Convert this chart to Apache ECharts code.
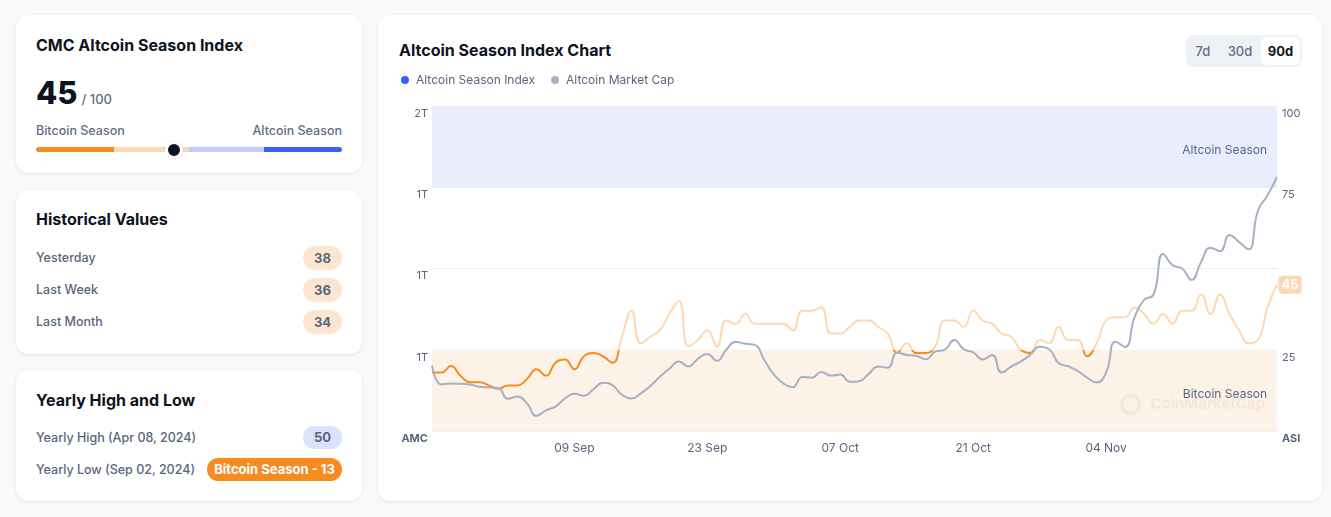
<!DOCTYPE html>
<html><head><meta charset="utf-8">
<script src="https://cdn.jsdelivr.net/npm/echarts@6/dist/echarts.min.js"></script>
<style>
html,body{margin:0;padding:0;width:1331px;height:517px;overflow:hidden;background:#F8F9FB;font-family:Inter,'Noto Sans',sans-serif;}
.card{position:absolute;background:#fff;border-radius:12px;box-shadow:0 1px 3px rgba(88,102,126,0.13),0 0 1px rgba(88,102,126,0.08);}
.abs{position:absolute;white-space:nowrap;}
.h{font-size:16px;font-weight:700;color:#0D1421;line-height:20px;}
.lbl{font-size:12.5px;font-weight:500;color:#616E85;line-height:16px;}
.row{font-size:12.5px;font-weight:500;color:#58667E;line-height:16px;}
.badge{position:absolute;height:24px;line-height:24px;border-radius:12px;text-align:center;font-size:13px;font-weight:700;color:#58667E;}
#chart{position:absolute;left:0;top:0;width:1331px;height:517px;z-index:5;}
</style>
</head><body>
<div class="card" style="left:16px;top:15px;width:346px;height:158px;">
  <div class="abs h" style="left:20px;top:20px;">CMC Altcoin Season Index</div>
  <div class="abs" style="left:20px;top:60px;display:flex;align-items:baseline;">
    <span style="font-size:31px;font-weight:800;color:#0D1421;line-height:36px;">45</span>
    <span style="font-size:13px;font-weight:500;color:#616E85;margin-left:4px;">/ 100</span>
  </div>
  <div class="abs lbl" style="left:20px;top:108px;">Bitcoin Season</div>
  <div class="abs lbl" style="right:20px;top:108px;">Altcoin Season</div>
  <div class="abs" style="left:20px;top:132px;width:306px;height:5px;border-radius:3px;overflow:hidden;display:flex;">
    <div style="width:78px;background:#F68B1F;"></div>
    <div style="width:75px;background:#FCD9B5;"></div>
    <div style="width:75px;background:#C3CBF7;"></div>
    <div style="width:78px;background:#3861FB;"></div>
  </div>
  <div class="abs" style="left:149px;top:126px;width:12px;height:12px;border-radius:50%;background:#0D1421;border:3px solid #fff;box-shadow:0 0 2px rgba(0,0,0,0.15);"></div>
</div>

<div class="card" style="left:16px;top:190px;width:346px;height:164px;">
  <div class="abs h" style="left:20px;top:19px;">Historical Values</div>
  <div class="abs row" style="left:20px;top:60px;">Yesterday</div>
  <div class="badge" style="right:20px;top:56px;width:39px;background:#FDE6D1;">38</div>
  <div class="abs row" style="left:20px;top:92px;">Last Week</div>
  <div class="badge" style="right:20px;top:88px;width:39px;background:#FDE6D1;">36</div>
  <div class="abs row" style="left:20px;top:124px;">Last Month</div>
  <div class="badge" style="right:20px;top:120px;width:39px;background:#FDE6D1;">34</div>
</div>

<div class="card" style="left:16px;top:370px;width:346px;height:131px;">
  <div class="abs h" style="left:20px;top:20px;">Yearly High and Low</div>
  <div class="abs row" style="left:20px;top:60px;">Yearly High (Apr 08, 2024)</div>
  <div class="badge" style="right:20px;top:56px;width:39px;height:23px;line-height:23px;background:#DDE2FC;">50</div>
  <div class="abs row" style="left:20px;top:92px;">Yearly Low (Sep 02, 2024)</div>
  <div class="badge" style="right:20px;top:88px;width:135px;height:23px;line-height:23px;background:#F68B1F;color:#fff;">Bitcoin Season - 13</div>
</div>

<div class="card" style="left:378px;top:15px;width:944px;height:486px;">
  <div class="abs h" style="left:21px;top:25px;">Altcoin Season Index Chart</div>
  <div class="abs" style="left:808px;top:20px;width:116px;height:32px;background:#EFF2F5;border-radius:8px;">
    <div class="abs" style="left:2px;top:0;width:30px;line-height:32px;text-align:center;font-size:13px;font-weight:500;color:#616E85;">7d</div>
    <div class="abs" style="left:37px;top:0;width:34px;line-height:32px;text-align:center;font-size:13px;font-weight:500;color:#616E85;">30d</div>
    <div class="abs" style="left:75px;top:2px;width:39px;height:28px;line-height:28px;background:#fff;border-radius:6px;text-align:center;font-size:13px;font-weight:700;color:#0D1421;">90d</div>
  </div>
</div>

<div id="chart"></div>
<script>
// Altcoin Season Index, daily, 25 Aug 2024 - 22 Nov 2024
const indexValues = [18,18,20,17,15,15,14,13,14,14,16,19,17,21,22,19,23,24,23,21,
  29,37,27,29,31,36,40,26,28,31,26,34,33,36,33,33,33,33,31,37,
  37,38,30,30,32,34,34,32,30,24,27,24,24,26,34,34,32,37,34,33,
  30,29,25,24,28,27,32,28,28,23,27,34,35,35,38,36,33,36,33,37,
  37,42,36,42,36,31,27,28,38,45];
// Altcoin market cap, billions USD
const marketCap = [542,472,475,474,472,463,461,458,419,427,402,356,376,390,420,438,430,454,478,469,
  434,420,439,466,500,530,557,538,566,584,559,600,630,622,618,562,509,476,462,499,
  497,518,505,509,482,484,511,538,534,590,581,578,565,593,600,636,602,590,564,581,
  516,538,556,581,611,602,551,539,522,497,479,516,630,610,720,784,804,954,912,900,
  858,924,977,964,1024,998,971,1114,1170,1238];
const startDate = [2024, 7, 25];
const monthNames = ['Jan','Feb','Mar','Apr','May','Jun','Jul','Aug','Sep','Oct','Nov','Dec'];
const xTickLabels = ['09 Sep','23 Sep','07 Oct','21 Oct','04 Nov'];
const leftTickLabels = ['AMC','1T','1T','1T','2T'];
const rightTickLabels = ['ASI','25','','75','100'];

const dates = [];
for (let i = 0; i < indexValues.length; i++) {
  const d = new Date(Date.UTC(startDate[0], startDate[1], startDate[2] + i));
  dates.push(String(d.getUTCDate()).padStart(2,'0') + ' ' + monthNames[d.getUTCMonth()]);
}

const chart = echarts.init(document.getElementById('chart'));
chart.setOption({
  animation: false,
  backgroundColor: 'transparent',
  textStyle: {fontFamily: 'Inter'},
  legend: {
    left: 396, top: 69, icon: 'circle', itemWidth: 8, itemHeight: 8, itemGap: 16,
    textStyle: {color: '#58667E', fontSize: 12, padding: [0,0,0,2]},
    data: [
      {name: 'Altcoin Season Index', itemStyle: {color: '#3861FB'}},
      {name: 'Altcoin Market Cap', itemStyle: {color: '#A6B0C3'}}
    ]
  },
  grid: {left: 432, right: 54, top: 106, bottom: 86},
  xAxis: {
    type: 'category', data: dates, boundaryGap: false,
    axisLine: {show: false}, axisTick: {show: false}, splitLine: {show: false},
    axisLabel: {color: '#58667E', fontSize: 12, margin: 11,
      interval: function (i, v) { return xTickLabels.indexOf(v) >= 0; }}
  },
  yAxis: [
    {
      type: 'value', position: 'left', min: 300, max: 1500, interval: 300,
      axisLine: {show: false}, axisTick: {show: false}, splitLine: {show: false},
      axisLabel: {
        margin: 4, verticalAlign: 'top', color: '#58667E', fontSize: 11, padding: [2, 0, 0, 0],
        formatter: function (v) {
          const k = Math.round((v - 300) / 300);
          return k === 0 ? '{b|' + leftTickLabels[0] + '}' : leftTickLabels[k];
        },
        rich: {b: {fontWeight: 'bold', color: '#58667E', fontSize: 11, verticalAlign: 'top'}}
      }
    },
    {
      type: 'value', position: 'right', min: 0, max: 100, interval: 25,
      axisLine: {show: false}, axisTick: {show: false},
      splitLine: {show: true, lineStyle: {type: 'dotted', color: '#D9DDE5', width: 1}},
      axisLabel: {
        margin: 5, verticalAlign: 'top', color: '#58667E', fontSize: 11, padding: [2, 0, 0, 0],
        formatter: function (v) {
          const k = Math.round(v / 25);
          return k === 0 ? '{b|' + rightTickLabels[0] + '}' : rightTickLabels[k];
        },
        rich: {b: {fontWeight: 'bold', color: '#58667E', fontSize: 11, verticalAlign: 'top'}}
      }
    }
  ],
  visualMap: {
    show: false, type: 'piecewise', seriesIndex: 0, dimension: 1,
    pieces: [{gte: 0, lte: 25, color: '#F68B1F'}, {gt: 25, lte: 100, color: '#FDD8B0'}],
    outOfRange: {color: '#FDD8B0'}
  },
  graphic: [{
    type: 'group', left: 1119, top: 393, silent: true, z: 100,
    children: [
      {type: 'circle', z: 100, shape: {cx: 11, cy: 10, r: 9}, style: {fill: 'none', stroke: 'rgba(150,120,90,0.09)', lineWidth: 3}},
      {type: 'text', z: 100, x: 31, y: 10, style: {text: 'CoinMarketCap', fill: 'rgba(150,120,90,0.09)', font: 'bold 15px Inter', textVerticalAlign: 'middle'}}
    ]
  }],
  series: [
    {
      name: 'Altcoin Season Index', type: 'line', yAxisIndex: 1, data: indexValues,
      smooth: 0.5, symbol: 'none', lineStyle: {width: 2}, z: 2,
      markArea: {
        silent: true,
        data: [
          [{yAxis: 75, itemStyle: {color: '#E9EDFD'},
            label: {show: true, position: 'insideRight', distance: 10, offset: [0, 4], color: '#58667E', fontSize: 12, formatter: 'Altcoin Season'}},
           {yAxis: 100}],
          [{yAxis: 0, itemStyle: {color: '#FDF2E8'},
            label: {show: true, position: 'insideRight', distance: 10, offset: [0, 4], color: '#58667E', fontSize: 12, formatter: 'Bitcoin Season'}},
           {yAxis: 25}]
        ]
      },
      markPoint: {
        symbol: 'rect', symbolSize: 1, silent: true,
        itemStyle: {color: 'transparent'},
        data: [{coord: [dates.length - 1, indexValues[indexValues.length - 1]], value: indexValues[indexValues.length - 1]}],
        label: {
          show: true, position: 'right', distance: 1, formatter: '{c}', color: '#fff', fontWeight: 'bold', fontSize: 13,
          backgroundColor: '#FDD8B0', borderRadius: 4, padding: [3, 3, 2, 3]
        }
      }
    },
    {
      name: 'Altcoin Market Cap', type: 'line', yAxisIndex: 0, data: marketCap,
      smooth: 0.5, symbol: 'none', z: 3,
      lineStyle: {width: 2, color: '#A6B0C3'}, itemStyle: {color: '#A6B0C3'}
    }
  ]
});
</script>
</body></html>
